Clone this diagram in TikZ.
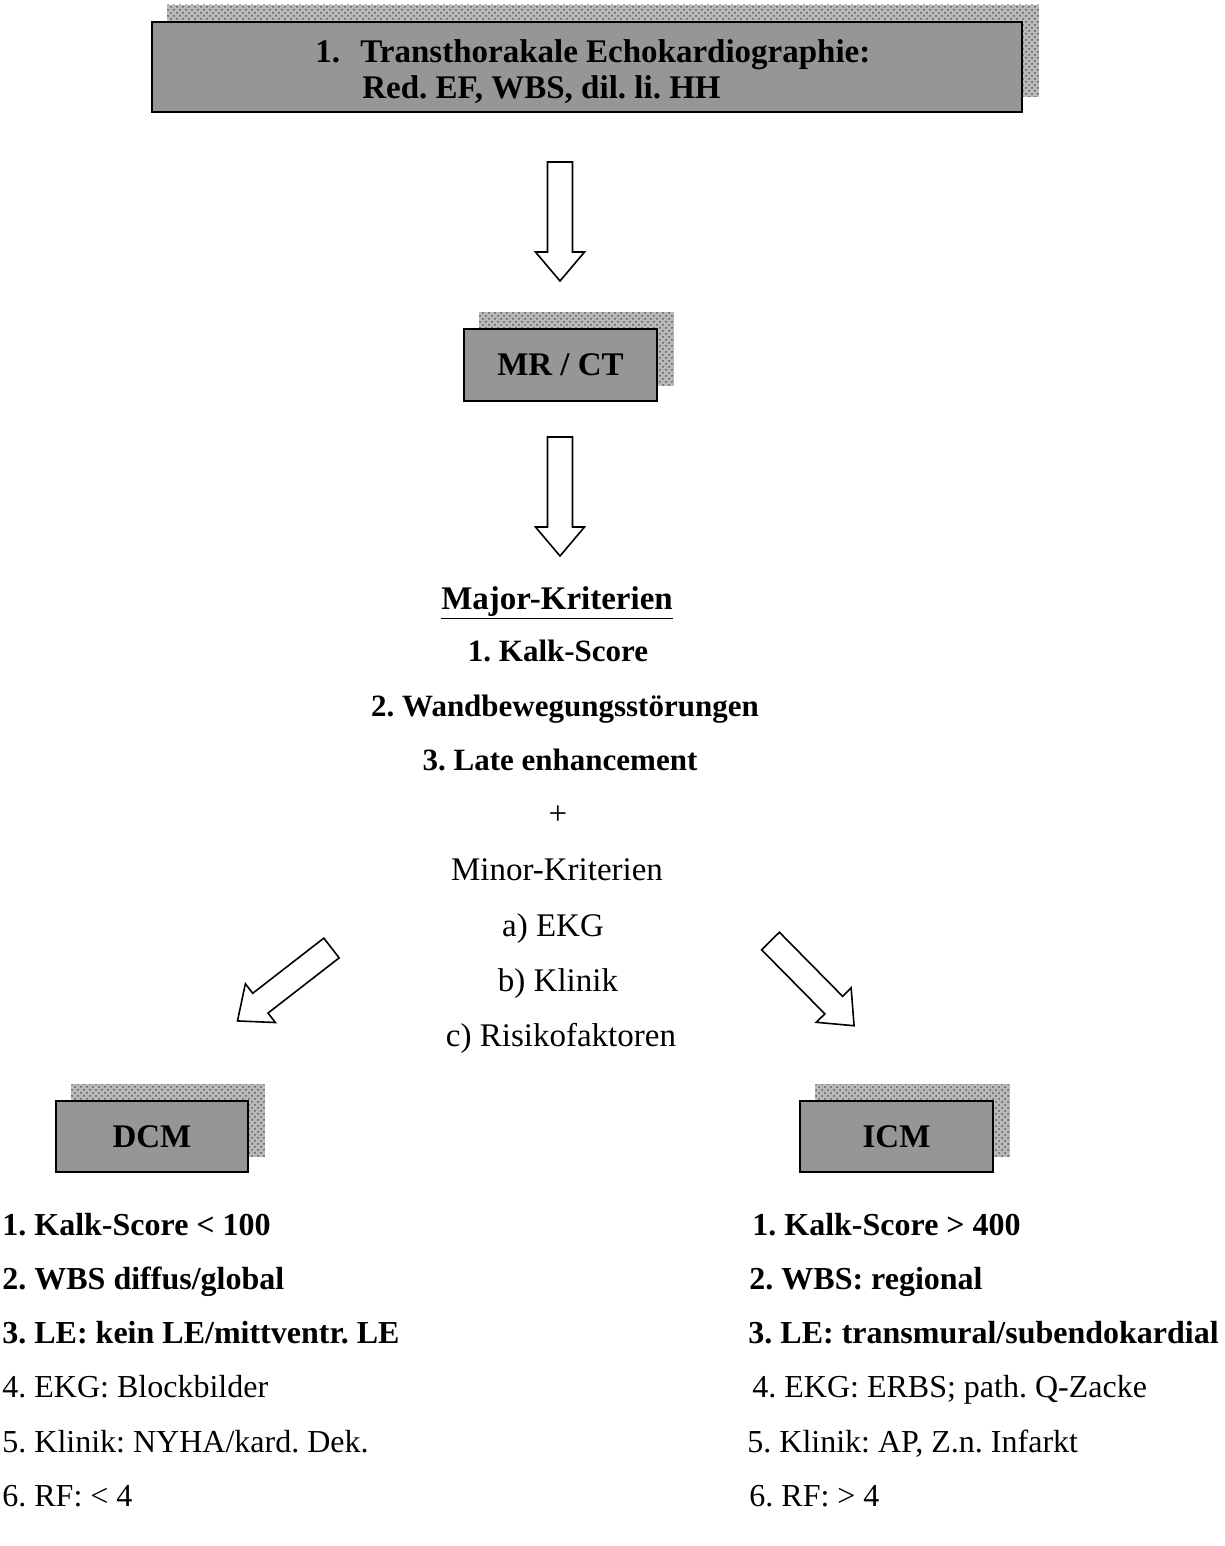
\documentclass[tikz,border=0pt]{standalone}
\usepackage{fontspec}
\setmainfont{Liberation Serif}
\usetikzlibrary{patterns,backgrounds,calc}
\definecolor{boxgray}{HTML}{969696}
\definecolor{shadowgray}{HTML}{B9B9B9}
\frenchspacing
\tikzset{
  txt/.style={font=\fontsize{16}{20}\selectfont, inner sep=0pt},
  ctxt/.style={font=\fontsize{16.5}{20}\selectfont, inner sep=0pt},
  btxt/.style={font=\bfseries\fontsize{16}{20}\selectfont, inner sep=0pt},
  cbtxt/.style={font=\bfseries\fontsize{15.5}{20}\selectfont, inner sep=0pt},
  hbtxt/.style={font=\bfseries\fontsize{16.5}{20}\selectfont, inner sep=0pt},
  greybox/.style={draw=black, line width=1pt, fill=boxgray, inner sep=0pt, font=\bfseries\fontsize{16.5}{20}\selectfont},
  shadowbox/.style={fill=shadowgray, postaction={pattern=crosshatch dots, pattern color=gray!70!black}},
  blockarrow/.pic={\draw[line width=0.8pt, fill=white, line join=miter]
     (0,-12.5) -- (90,-12.5) -- (90,-24.5) -- (119,0) -- (90,24.5) -- (90,12.5) -- (0,12.5) -- cycle;}
}
\begin{document}
\begin{tikzpicture}[x=0.5pt,y=-0.5pt]
\useasboundingbox (0,0) rectangle (1225,1546);

% boxes
\node[greybox, minimum width=435pt, minimum height=45pt] (tte) at (587,67) {};
\node[greybox, minimum width=96.5pt, minimum height=36pt] (mrct) at (560.5,365) {MR / CT};
\node[greybox, minimum width=96pt, minimum height=35.5pt] (dcm) at (152,1136.5) {DCM};
\node[greybox, minimum width=96.5pt, minimum height=35.5pt] (icm) at (896.5,1136.5) {ICM};

\begin{scope}[on background layer]
  \foreach \b in {tte,mrct,dcm,icm}{
    \fill[shadowbox] ($(\b.south west)+(16,-16)$) rectangle ($(\b.north east)+(16,-16)$);
  }
\end{scope}

% top box text
\node[hbtxt, anchor=base west] (t1a) at (315,63) {1.};
\node[hbtxt, anchor=base west] (t1b) at (360,63) {Transthorakale Echokardiographie:};
\node[hbtxt, anchor=base west] (t1c) at (362,99) {Red. EF, WBS, dil. li. HH};

% block arrows
\coordinate (a1) at (560,162);
\coordinate (a2) at (560,437);
\coordinate (a3) at (331.5,948);
\coordinate (a4) at (770.5,941);
\pic[rotate=-90] at (a1) {blockarrow};
\pic[rotate=-90] at (a2) {blockarrow};
\pic[rotate=-142.2] at (a3) {blockarrow};
\pic[rotate=-45.4] at (a4) {blockarrow};

% central criteria
\node[hbtxt, anchor=base] (maj) at (557,609) {\underline{Major-Kriterien}};
\node[cbtxt, anchor=base] (m1) at (558,661) {1. Kalk-Score};
\node[cbtxt, anchor=base] (m2) at (565,716) {2. Wandbewegungsstörungen};
\node[cbtxt, anchor=base] (m3) at (560,770) {3. Late enhancement};
\node[ctxt, anchor=base] (plus) at (558,824) {+};
\node[ctxt, anchor=base] (min) at (557,880) {Minor-Kriterien};
\node[ctxt, anchor=base] (na) at (553,936) {a) EKG};
\node[ctxt, anchor=base] (nb) at (558,991) {b) Klinik};
\node[ctxt, anchor=base] (nc) at (561,1046) {c) Risikofaktoren};

% left list
\node[btxt, anchor=base west] (l1) at (2,1235) {1. Kalk-Score < 100};
\node[btxt, anchor=base west] (l2) at (2,1289) {2. WBS diffus/global};
\node[btxt, anchor=base west] (l3) at (2,1343) {3. LE: kein LE/mittventr. LE};
\node[txt, anchor=base west] (l4) at (2,1397) {4. EKG: Blockbilder};
\node[txt, anchor=base west] (l5) at (2,1452) {5. Klinik: NYHA/kard. Dek.};
\node[txt, anchor=base west] (l6) at (2,1506) {6. RF: < 4};

% right list
\node[btxt, anchor=base west] (r1) at (752,1235) {1. Kalk-Score > 400};
\node[btxt, anchor=base west] (r2) at (749,1289) {2. WBS: regional};
\node[btxt, anchor=base west] (r3) at (748,1343) {3. LE: transmural/subendokardial};
\node[txt, anchor=base west] (r4) at (752,1397) {4. EKG: ERBS; path. Q-Zacke};
\node[txt, anchor=base west] (r5) at (747,1452) {5. Klinik: AP, Z.n. Infarkt};
\node[txt, anchor=base west] (r6) at (749,1506) {6. RF: > 4};
\end{tikzpicture}
\end{document}
